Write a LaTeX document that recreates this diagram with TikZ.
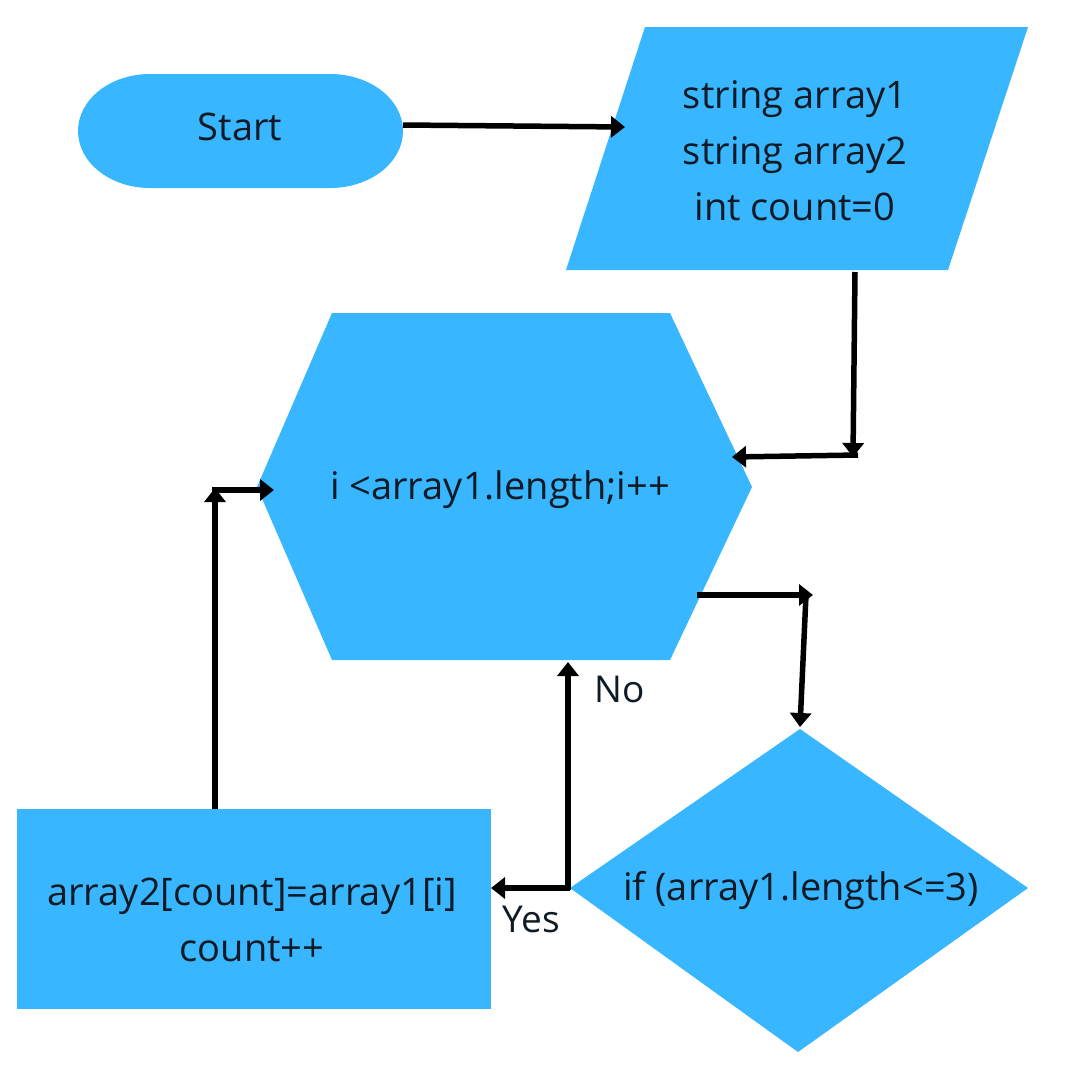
\documentclass[tikz,border=0pt]{standalone}
\usepackage{fontspec}
\setmainfont{Open Sans}
\usetikzlibrary{arrows.meta}
\definecolor{shapeblue}{HTML}{38B6FF}
\definecolor{ink}{HTML}{0F1A24}
\begin{document}
\begin{tikzpicture}[x=1pt,y=-1pt,
  shapefill/.style={fill=shapeblue,draw=none},
  txt/.style={text=ink,font=\fontsize{38}{56}\selectfont,inner sep=0pt,anchor=base},
  lbl/.style={text=ink,font=\fontsize{37}{44}\selectfont,inner sep=0pt,anchor=base},
  arr/.style={draw=black,line width=5.5pt,-{Triangle[length=14pt,width=21pt]}}]
\useasboundingbox[fill=white] (0,0) rectangle (1080,1080);
% shapes
\fill[shapefill] (150,74) -- (330,74) arc[start angle=-90,end angle=90,x radius=73,y radius=57]
  -- (150,188) arc[start angle=90,end angle=270,x radius=72,y radius=57] -- cycle;
\fill[shapefill] (645,27) -- (1028,27) -- (948,270) -- (566,270) -- cycle;
\fill[shapefill] (332,313) -- (670,313) -- (752,487) -- (670,660) -- (332,660) -- (257,487) -- cycle;
\fill[shapefill] (800,729) -- (1028,888) -- (798,1052) -- (570,888) -- cycle;
\fill[shapefill] (17,809) rectangle (491,1009);
% texts
\node[txt] (start) at (240,140) {Start};
\node[txt] (decl) at (795,108) {\begin{tabular}[t]{@{}c@{}}string array1\\string array2\\int count=0\end{tabular}};
\node[txt] (loop) at (500,499) {i <array1.length;i++};
\node[txt] (cond) at (801,900) {if (array1.length<=3)};
\node[txt] (body) at (252,905) {\begin{tabular}[t]{@{}c@{}}array2[count]=array1[i]\\count++\end{tabular}};
\node[lbl] (no) at (620,702) {No};
\node[lbl] (yes) at (531,932) {Yes};
% connector points
\coordinate (sE) at (403,125);
\coordinate (dW) at (625,127);
\coordinate (dS) at (855,272);
\coordinate (k1) at (853,457);
\coordinate (k1b) at (858,455);
\coordinate (lE) at (732,457);
\coordinate (lSE) at (697,595);
\coordinate (k2) at (813,595);
\coordinate (k2b) at (806,595);
\coordinate (cN) at (800,727);
\coordinate (cW) at (570,888);
\coordinate (bE) at (491,888);
\coordinate (k3) at (568,890);
\coordinate (lS) at (568,662);
\coordinate (bN) at (215,809);
\coordinate (k4) at (215,488);
\coordinate (k4b) at (212,490);
\coordinate (lW) at (274,490);
% connectors
\draw[arr] (sE) -- (dW);
\draw[arr] (dS) -- (k1);
\draw[arr] (k1b) -- (lE);
\draw[arr] (lSE) -- (k2);
\draw[arr] (k2b) -- (cN);
\draw[arr] (cW) -- (bE);
\draw[arr] (k3) -- (lS);
\draw[arr] (bN) -- (k4);
\draw[arr] (k4b) -- (lW);
\end{tikzpicture}
\end{document}
